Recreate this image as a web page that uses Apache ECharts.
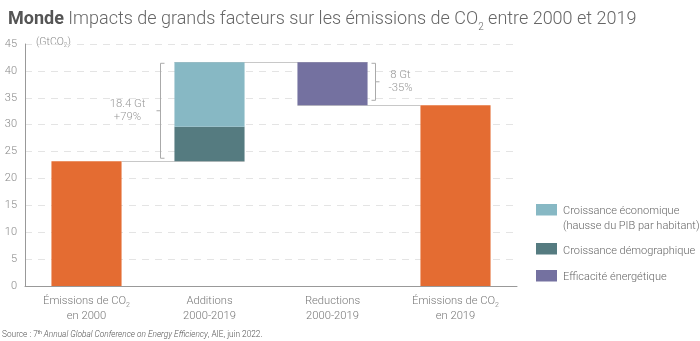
<!DOCTYPE html>
<html><head><meta charset="utf-8">
<script src="https://cdn.jsdelivr.net/npm/echarts@6/dist/echarts.min.js"></script>
<style>html,body{margin:0;padding:0;background:#fff}#c{width:700px;height:341px}</style>
</head><body><div id="c"></div>
<script>
const categories = ['Émissions de CO{sub|2}\nen 2000', 'Additions\n2000-2019', 'Reductions\n2000-2019', 'Émissions de CO{sub|2}\nen 2019'];
const emissions = [23.2, null, null, 33.6];
const demographic = [null, 6.4, null, null];
const economic = [null, 12.0, null, null];
const efficiency = [null, null, 8.0, null];
const yTicks = [0, 5, 10, 15, 20, 25, 30, 35, 40, 45];
const names = ['Croissance économique\n(hausse du PIB par habitant)', 'Croissance démographique', 'Efficacité énergétique'];
const bracketLabels = ['18.4 Gt\n+79%', '8 Gt\n-35%'];

const start = emissions[0];
const peak = start + demographic[1] + economic[1];
const afterRed = peak - efficiency[2];
const base = [0, start, afterRed, 0];

const FONT = 'Roboto';
const C_OR = '#E46C32', C_EC = '#87B8C4', C_DE = '#557B80', C_EF = '#7471A0';
const legendColors = [C_EC, C_DE, C_EF];
const BW = 0.57;

const connectors = [[0, 1, start], [1, 2, peak], [2, 3, afterRed]];
const connEdges = [[1, 1], [-1, 1], [-1, -1]];
const brackets = [[1, start, peak, bracketLabels[0]], [2, afterRed, peak, bracketLabels[1]]];

const chart = echarts.init(document.getElementById('c'), null, {renderer: 'canvas'});
const nz = a => a.map(v => v == null ? '-' : v);
const subRich = {sub: {fontSize: 7, verticalAlign: 'bottom', lineHeight: 15, fontFamily: FONT, fontWeight: 300, color: '#777'}};

const legendIconTop = [204, 243, 270];
const legendTextMid = [218.5, 251.5, 277];
const legendGraphics = [];
names.forEach((n, i) => {
  legendGraphics.push({type: 'rect', shape: {x: 536, y: legendIconTop[i], width: 21, height: 11.5}, style: {fill: legendColors[i]}});
  legendGraphics.push({type: 'text', x: 563, y: legendTextMid[i], style: {text: n, fill: '#666', font: '300 11px Roboto', lineHeight: 14.5, verticalAlign: 'middle', align: 'left'}});
});

chart.setOption({
  animation: false,
  textStyle: {fontFamily: FONT},
  title: {
    left: 3, top: 1,
    text: '{b|Monde} Impacts de grands facteurs sur les émissions de CO{s|2} entre 2000 et 2019',
    textStyle: {
      fontFamily: FONT, fontWeight: 300, fontSize: 18, color: '#666',
      rich: {
        b: {fontFamily: FONT, fontWeight: 'bold', fontSize: 18, color: '#555'},
        s: {fontFamily: FONT, fontWeight: 300, fontSize: 10, color: '#666', verticalAlign: 'bottom', lineHeight: 26}
      }
    }
  },
  grid: {left: 25, right: 183, top: 44, bottom: 55},
  xAxis: {
    type: 'category', data: categories,
    axisLine: {lineStyle: {color: '#999'}}, axisTick: {show: false},
    axisLabel: {interval: 0, color: '#777', fontSize: 11.2, fontFamily: FONT, fontWeight: 300, lineHeight: 15, margin: 8, rich: subRich}
  },
  yAxis: {
    type: 'value', min: 0, max: 45, interval: 5,
    axisLine: {show: true, lineStyle: {color: '#999'}}, axisTick: {show: false},
    axisLabel: {color: '#888', fontSize: 11, fontFamily: FONT, fontWeight: 300, margin: 8,
      formatter: v => yTicks.includes(v) ? String(v) : ''},
    splitLine: {lineStyle: {color: '#e4e4e4', type: [7, 6]}}
  },
  graphic: [
    {type: 'text', left: 36, top: 37, style: {
      text: '(GtCO{s|2})', fill: '#888', font: '300 10.5px Roboto',
      rich: {s: {fontSize: 6.5, fontFamily: FONT, fontWeight: 300, verticalAlign: 'bottom', lineHeight: 13, fill: '#888'}}
    }},
    {type: 'text', x: 2, y: 335, style: {
      text: 'Source : 7{sup|th} {i|Annual Global Conference on Energy Efficiency}, AIE, juin 2022.',
      fill: '#555', font: '300 8.3px Roboto', verticalAlign: 'middle',
      rich: {
        sup: {fontSize: 4.5, fontFamily: FONT, verticalAlign: 'top', lineHeight: 10, fill: '#555'},
        i: {fontStyle: 'italic', fontSize: 8.3, fontFamily: FONT, fontWeight: 300, fill: '#555'}
      }
    }}
  ].concat(legendGraphics),
  series: [
    {type: 'bar', stack: 't', data: base, barWidth: (BW * 100) + '%', itemStyle: {color: 'transparent'}, silent: true},
    {type: 'bar', name: 'Émissions de CO2', stack: 't', data: nz(emissions), itemStyle: {color: C_OR}},
    {type: 'bar', name: names[1], stack: 't', data: nz(demographic), itemStyle: {color: C_DE}},
    {type: 'bar', name: names[0], stack: 't', data: nz(economic), itemStyle: {color: C_EC}},
    {type: 'bar', name: names[2], stack: 't', data: nz(efficiency), itemStyle: {color: C_EF}},
    {
      type: 'custom', silent: true, z: 1, data: connectors, encode: {x: 0, y: 2},
      renderItem: (params, api) => {
        const i = params.dataIndex;
        const half = api.size([1, 0])[0] * BW / 2;
        const p0 = api.coord([api.value(0), api.value(2)]);
        const p1 = api.coord([api.value(1), api.value(2)]);
        const x0 = p0[0] + connEdges[i][0] * half, x1 = p1[0] + connEdges[i][1] * half;
        const y = Math.round(p0[1]) + 0.5;
        return {type: 'line', shape: {x1: x0, y1: y, x2: x1, y2: y}, style: {stroke: '#c8c8c8', lineWidth: 1}};
      }
    },
    {
      type: 'custom', silent: true, z: 3, data: brackets, encode: {x: 0, y: 2},
      renderItem: (params, api) => {
        const i = params.dataIndex;
        const half = api.size([1, 0])[0] * BW / 2;
        const lo = api.coord([api.value(0), api.value(1)]);
        const hi = api.coord([api.value(0), api.value(2)]);
        const yTop = hi[1] + 1, yBot = lo[1] - (i === 0 ? 3 : 5);
        const ym = (yTop + yBot) / 2;
        let xv, dir, tx;
        if (i === 0) { xv = Math.round(lo[0] - half - 14) + 0.5; dir = 1; tx = xv - 33; }
        else { xv = Math.round(lo[0] + half + 7) + 0.5; dir = -1; tx = xv + 25; }
        const st = {stroke: '#aaa', lineWidth: 1, fill: null};
        return {type: 'group', children: [
          {type: 'polyline', shape: {points: [[xv + 4 * dir, yTop], [xv, yTop], [xv, yBot], [xv + 4 * dir, yBot]]}, style: st},
          {type: 'line', shape: {x1: xv, y1: ym, x2: xv - 4 * dir, y2: ym}, style: st},
          {type: 'text', x: tx, y: ym, style: {text: brackets[i][3], fill: '#999', font: '300 11.3px Roboto', lineHeight: 13, align: 'center', verticalAlign: 'middle'}}
        ]};
      }
    }
  ]
});
</script></body></html>
